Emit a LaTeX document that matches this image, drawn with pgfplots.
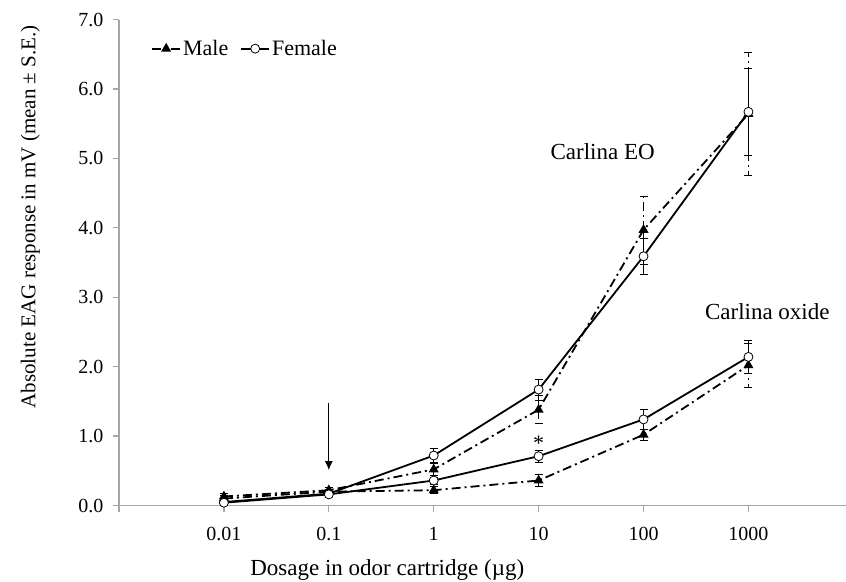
\documentclass[border=0pt]{standalone}
\usepackage{pgfplots}
\pgfplotsset{compat=1.18}
\usetikzlibrary{arrows.meta}
\usepackage{fontspec}
\setmainfont{Liberation Serif}

\begin{document}
\begin{tikzpicture}[font=\fontsize{20}{24}\selectfont]
\begin{axis}[
    scale only axis,
    width=727pt, height=486pt,
    at={(0,0)}, anchor=south west,
    xmin=0, xmax=6.93,
    ymin=0, ymax=7,
    axis x line*=bottom,
    axis y line*=left,
    axis line style={gray!70, line width=1.2pt, -},
    xtick={0,1,2,3,4,5,6},
    xticklabels={,0.01,0.1,1,10,100,1000},
    ytick={0,1,2,3,4,5,6,7},
    yticklabels={0.0,1.0,2.0,3.0,4.0,5.0,6.0,7.0},
    tick style={gray!70, line width=1.2pt},
    tick align=outside,
    major tick length=6pt,
    ticklabel style={font=\fontsize{20}{24}\selectfont},
    xticklabel style={yshift=-12pt},
    yticklabel style={xshift=-6pt},
    xlabel={Dosage in odor cartridge (µg)},
    ylabel={Absolute EAG response in mV (mean ± S.E.)},
    xlabel style={font=\fontsize{23}{27}\selectfont,
        at={(axis description cs:0.369,-0.133)}, anchor=center},
    ylabel style={font=\fontsize{21}{25}\selectfont,
        at={(axis description cs:-0.122,0.594)}, anchor=center},
    legend style={draw=none, fill=none, at={(axis description cs:0.04,0.94)}, anchor=west,
        legend columns=2, font=\fontsize{22}{26}\selectfont,
        /tikz/every even column/.append style={column sep=10pt}},
    legend image code/.code={%
        \draw[mark repeat=2, mark phase=2, #1]
            plot coordinates {(0pt,0pt) (14pt,0pt) (28pt,0pt)};},
    legend cell align=left,
    error bars/error bar style={black, line width=0.7pt},
    error bars/error mark options={rotate=90, black, mark size=4pt, line width=0.7pt},
]
% Male, Carlina EO
\addplot[black, line width=1.8pt, dash pattern=on 9pt off 4pt on 2pt off 4pt,
    mark=triangle*, mark size=4pt, mark options={solid, fill=black},
    error bars/.cd, y dir=both, y explicit]
    coordinates {(1,0.13) +- (0,0.05) (2,0.22) +- (0,0.04) (3,0.52) +- (0,0.08)
                 (4,1.38) +- (0,0.20) (5,3.97) +- (0,0.49) (6,5.64) +- (0,0.88)};
\addlegendentry{Male}
% Female, Carlina EO
\addplot[black, line width=1.8pt, mark=*, mark size=4.5pt,
    mark options={solid, fill=white, line width=0.8pt},
    error bars/.cd, y dir=both, y explicit]
    coordinates {(1,0.05) +- (0,0.03) (2,0.17) +- (0,0.03) (3,0.72) +- (0,0.10)
                 (4,1.67) +- (0,0.15) (5,3.59) +- (0,0.26) (6,5.67) +- (0,0.63)};
\addlegendentry{Female}
% Male, Carlina oxide
\addplot[black, line width=1.8pt, dash pattern=on 9pt off 4pt on 2pt off 4pt,
    mark=triangle*, mark size=4pt, mark options={solid, fill=black}, forget plot,
    error bars/.cd, y dir=both, y explicit]
    coordinates {(1,0.10) +- (0,0.05) (2,0.20) +- (0,0.03) (3,0.22) +- (0,0.05)
                 (4,0.36) +- (0,0.09) (5,1.02) +- (0,0.08) (6,2.02) +- (0,0.32)};
% Female, Carlina oxide
\addplot[black, line width=1.8pt, mark=*, mark size=4.5pt,
    mark options={solid, fill=white, line width=0.8pt}, forget plot,
    error bars/.cd, y dir=both, y explicit]
    coordinates {(1,0.04) +- (0,0.03) (2,0.16) +- (0,0.03) (3,0.36) +- (0,0.05)
                 (4,0.71) +- (0,0.09) (5,1.24) +- (0,0.14) (6,2.14) +- (0,0.24)};

\node[font=\fontsize{23}{27}\selectfont] at (axis cs:4.61,5.1) {Carlina EO};
\node[font=\fontsize{23}{27}\selectfont] at (axis cs:6.18,2.79) {Carlina oxide};
\node[font=\fontsize{22}{26}\selectfont] at (axis cs:4,0.90) {*};
\draw[black, line width=1pt, -{Latex[length=9pt,width=8pt]}] (axis cs:2,1.48) -- (axis cs:2,0.51);
\end{axis}
\pgfresetboundingbox
\path (-119pt,-75.5pt) rectangle (727pt,505.5pt);
\end{tikzpicture}
\end{document}
